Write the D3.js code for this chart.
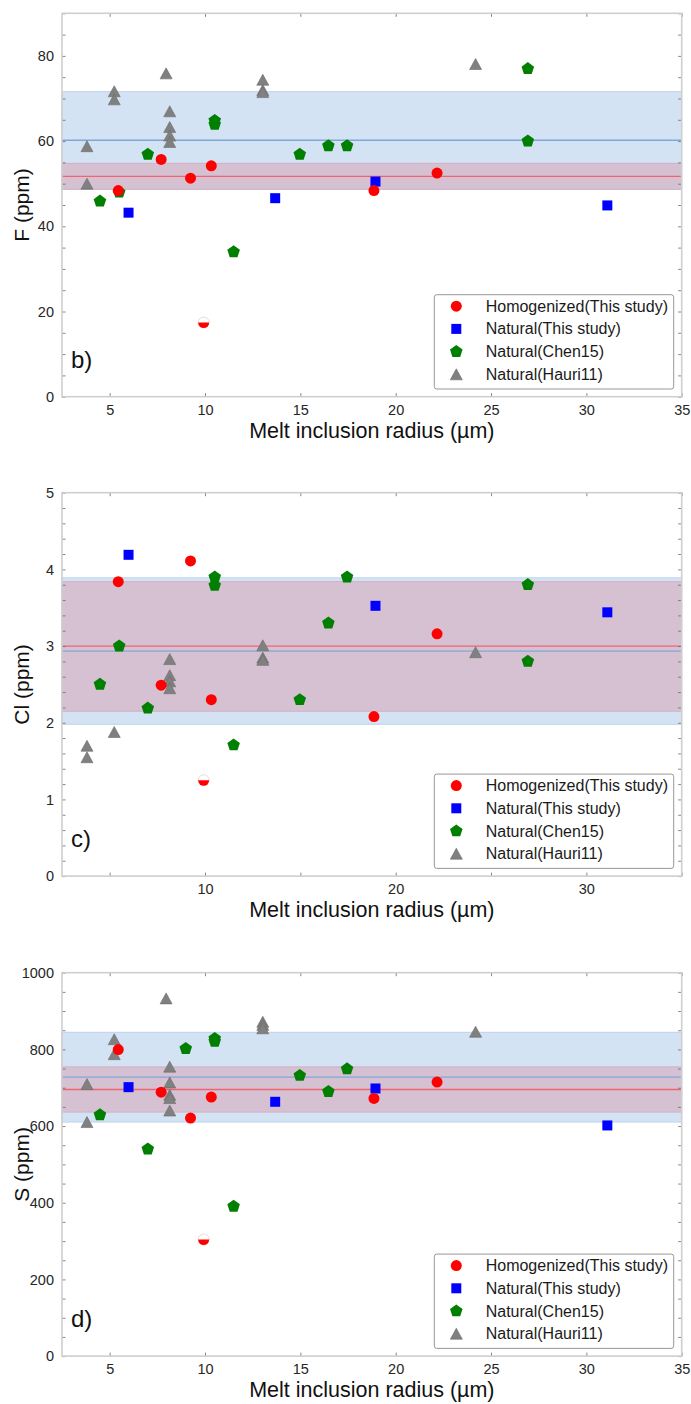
<!DOCTYPE html>
<html>
<head>
<meta charset="utf-8">
<script src="https://cdn.jsdelivr.net/npm/d3@7"></script>
<style>
  body { margin: 0; background: #fff; }
  svg text { font-family: "Liberation Sans", Arial, sans-serif; }
</style>
</head>
<body>
<div id="vis"></div>
<script>
// melt inclusion radius (um) for each series
const homogR = [5.45, 7.7, 9.24, 10.33, 18.86, 22.17];
const homogF = [48.4, 55.7, 51.3, 54.2, 48.4, 52.5];
const homogCl = [3.84, 2.49, 4.11, 2.30, 2.08, 3.16];
const homogS = [799.5, 688.5, 620.8, 675.5, 672, 714.6];

// the half filled homogenized inclusion
const halfR = [9.93];
const halfF = [17.4];
const halfCl = [1.25];
const halfS = [304];

const natR = [5.99, 13.68, 18.94, 31.1];
const natF = [43.2, 46.6, 50.5, 44.9];
const natCl = [4.19, null, 3.525, 3.44];
const natS = [701.5, 663.3, 698, 601.6];

const chenR = [4.49, 5.5, 7.0, 8.99, 10.51, 10.51, 11.5, 14.97, 16.47, 17.45, 26.93, 26.93];
const chenF = [45.9, 48.0, 56.9, null, 64.8, 63.9, 34.0, 56.9, 58.9, 58.9, 77.0, 60.0];
const chenCl = [2.5, 3.0, 2.19, null, 3.90, 3.79, 1.71, 2.30, 3.30, 3.90, 3.80, 2.80];
const chenS = [629.4, null, 540, 802, 828, 821, 390.6, 731.8, 690, 749, null, null];

const hauriR = [3.81, 3.81, 5.24, 5.24, 7.96, 8.15, 8.15, 8.15, 8.15, 8.15, 13.03, 13.03, 13.03, 24.19];
const hauriF = [58.8, 50.0, 71.7, 69.8, 75.9, 67.0, 63.3, 61.3, 59.8, null, 74.4, 72.0, 71.5, 78.1];
const hauriCl = [1.70, 1.55, 1.88, null, null, 2.83, 2.62, 2.54, 2.45, null, 3.01, 2.85, 2.82, 2.92];
const hauriS = [709.4, 610.4, 826.5, 787.5, 933, 755, 713.5, 681.5, 673, 640.6, 872, 864, 855, 846];

// mean, low, high of the shaded ranges
const blueBandF = [60.2, 48.7, 71.6];
const redBandF = [51.7, 48.7, 54.8];
const blueBandCl = [2.935, 1.98, 3.89];
const redBandCl = [3.0, 2.15, 3.84];
const blueBandS = [727.6, 610.4, 844.8];
const redBandS = [695.3, 636.4, 754.4];

const xTicks = [5, 10, 15, 20, 25, 30, 35];
const xLabelsAll = [5, 10, 15, 20, 25, 30, 35];
const xLabelsCl = [10, 20, 30];
const yLabelsF = [0, 20, 40, 60, 80];
const yLabelsCl = [0, 1, 2, 3, 4, 5];
const yLabelsS = [0, 200, 400, 600, 800, 1000];

const legendNames = ["Homogenized(This study)", "Natural(This study)", "Natural(Chen15)", "Natural(Hauri11)"];

const W = 691, H = 1404;
const plotLeft = 62, plotRight = 681.7, plotH = 383.4;

const panels = [
  {top: 13.3, letter: "b)", title: "F (ppm)", ymax: 90, ystep: 5, ylabels: yLabelsF, xlabels: xLabelsAll,
   homog: homogF, half: halfF, nat: natF, chen: chenF, hauri: hauriF, blue: blueBandF, red: redBandF},
  {top: 492.7, letter: "c)", title: "Cl (ppm)", ymax: 5, ystep: 0.2, ylabels: yLabelsCl, xlabels: xLabelsCl,
   homog: homogCl, half: halfCl, nat: natCl, chen: chenCl, hauri: hauriCl, blue: blueBandCl, red: redBandCl},
  {top: 972.7, letter: "d)", title: "S (ppm)", ymax: 1000, ystep: 50, ylabels: yLabelsS, xlabels: xLabelsAll,
   homog: homogS, half: halfS, nat: natS, chen: chenS, hauri: hauriS, blue: blueBandS, red: redBandS}
];

const pentagon = (R) => {
  const pts = d3.range(5).map(k => {
    const a = (-90 + 72 * k) * Math.PI / 180;
    return [R * Math.cos(a), R * Math.sin(a)];
  });
  return "M" + pts.map(p => p.join(",")).join("L") + "Z";
};
const shapes = {
  circle: d3.symbol(d3.symbolCircle, 95)(),
  square: "M-5,-5H5V5H-5Z",
  pentagon: pentagon(6.6),
  triangle: "M0,-5.5L6,5.5L-6,5.5Z"
};
const styles = [
  {shape: "circle", fill: "#ff0000", stroke: "none"},
  {shape: "square", fill: "#0000ff", stroke: "none"},
  {shape: "pentagon", fill: "#007f00", stroke: "none"},
  {shape: "triangle", fill: "#808080", stroke: "#6a6a6a"}
];

const svg = d3.select("#vis").append("svg").attr("width", W).attr("height", H);

const x = d3.scaleLinear().domain([2.5, 35]).range([plotLeft, plotRight]);

panels.forEach(p => {
  const bottom = p.top + plotH;
  const y = d3.scaleLinear().domain([0, p.ymax]).range([bottom, p.top]);
  const g = svg.append("g");
  const yTicks = d3.range(0, p.ymax + p.ystep / 2, p.ystep).map(v => +v.toFixed(3));
  const isLabel = (list) => (v) => list.some(l => Math.abs(l - v) < 1e-6);

  // shaded ranges first, then the mean lines on top
  const bands = [
    {b: p.blue, fill: "#d4e3f4", edge: "#b3cdea", line: "#7fa8d8"},
    {b: p.red, fill: "#d5c1d2", edge: "#d2a9bd", line: "#f06470"}
  ];
  bands.forEach(d => {
    g.append("rect")
      .attr("x", plotLeft).attr("width", plotRight - plotLeft)
      .attr("y", y(d.b[2])).attr("height", y(d.b[1]) - y(d.b[2]))
      .attr("fill", d.fill).attr("stroke", d.edge).attr("stroke-width", 0.8);
  });
  bands.forEach(d => {
    g.append("line")
      .attr("x1", plotLeft).attr("x2", plotRight)
      .attr("y1", y(d.b[0])).attr("y2", y(d.b[0]))
      .attr("stroke", d.line).attr("stroke-width", 1.3);
  });

  // axes
  const fmt = (labels) => (v) => isLabel(labels)(v) ? d3.format("")(v) : "";
  const axes = [
    {ax: d3.axisBottom(x).tickValues(xTicks).tickFormat(fmt(p.xlabels)), t: `translate(0,${bottom})`},
    {ax: d3.axisTop(x).tickValues(xTicks).tickFormat(""), t: `translate(0,${p.top})`},
    {ax: d3.axisLeft(y).tickValues(yTicks).tickFormat(fmt(p.ylabels)), t: `translate(${plotLeft},0)`},
    {ax: d3.axisRight(y).tickValues(yTicks).tickFormat(""), t: `translate(${plotRight},0)`}
  ];
  axes.forEach(a => {
    const ag = g.append("g").attr("transform", a.t)
      .call(a.ax.tickSizeInner(-3.5).tickSizeOuter(0).tickPadding(8));
    ag.select(".domain").remove();
    ag.selectAll(".tick line").attr("stroke", "#666").attr("stroke-width", 0.8);
    ag.selectAll(".tick text").attr("fill", "#262626").attr("font-size", 14.5)
      .style("font-family", "'Liberation Sans', Arial, sans-serif");
  });

  g.append("rect")
    .attr("x", plotLeft).attr("y", p.top)
    .attr("width", plotRight - plotLeft).attr("height", plotH)
    .attr("fill", "none").attr("stroke", "#cfcfcf").attr("stroke-width", 1.6);

  // points
  const series = [
    {r: homogR, v: p.homog, s: styles[0]},
    {r: natR, v: p.nat, s: styles[1]},
    {r: chenR, v: p.chen, s: styles[2]},
    {r: hauriR, v: p.hauri, s: styles[3]}
  ];
  series.slice().reverse().forEach(se => {
    const pts = se.r.map((r, i) => ({r, v: se.v[i]})).filter(d => d.v != null);
    g.append("g").selectAll("path").data(pts).enter().append("path")
      .attr("d", shapes[se.s.shape])
      .attr("transform", d => `translate(${x(d.r)},${y(d.v)})`)
      .attr("fill", se.s.fill).attr("stroke", se.s.stroke).attr("stroke-width", 0.6);
  });

  // half filled marker
  halfR.forEach((r, i) => {
    const hg = g.append("g").attr("transform", `translate(${x(r)},${y(p.half[i])})`);
    hg.append("circle").attr("r", 5.5).attr("fill", "#fff").attr("stroke", "#c8c8c8").attr("stroke-width", 0.6);
    hg.append("path").attr("d", "M-5.5,0A5.5,5.5 0 0 0 5.5,0Z").attr("fill", "#ff0000");
  });

  // panel letter
  g.append("text").attr("x", 71).attr("y", bottom - 29)
    .attr("font-size", 24).attr("fill", "#111").text(p.letter);

  // axis titles
  g.append("text").attr("x", (plotLeft + plotRight) / 2).attr("y", bottom + 41)
    .attr("text-anchor", "middle").attr("font-size", 21.5).attr("fill", "#111")
    .text("Melt inclusion radius (\u00b5m)");
  g.append("text")
    .attr("transform", `translate(29,${p.top + plotH / 2}) rotate(-90)`)
    .attr("text-anchor", "middle").attr("font-size", 21).attr("fill", "#111")
    .text(p.title);

  // legend
  const lw = 239.4, lh = 94.3;
  const lx = plotRight - 8 - lw, ly = bottom - 7.7 - lh;
  const lg = g.append("g").attr("transform", `translate(${lx},${ly})`);
  lg.append("rect").attr("width", lw).attr("height", lh).attr("rx", 2.5)
    .attr("fill", "#fff").attr("stroke", "#8c8c8c").attr("stroke-width", 0.9);
  legendNames.forEach((name, i) => {
    const cy = 11.5 + i * 22.7;
    lg.append("path").attr("d", shapes[styles[i].shape])
      .attr("transform", `translate(22,${cy})`)
      .attr("fill", styles[i].fill).attr("stroke", styles[i].stroke).attr("stroke-width", 0.6);
    lg.append("text").attr("x", 51.4).attr("y", cy + 5.6)
      .attr("font-size", 16).attr("fill", "#1a1a1a").text(name);
  });
});
</script>
</body>
</html>
